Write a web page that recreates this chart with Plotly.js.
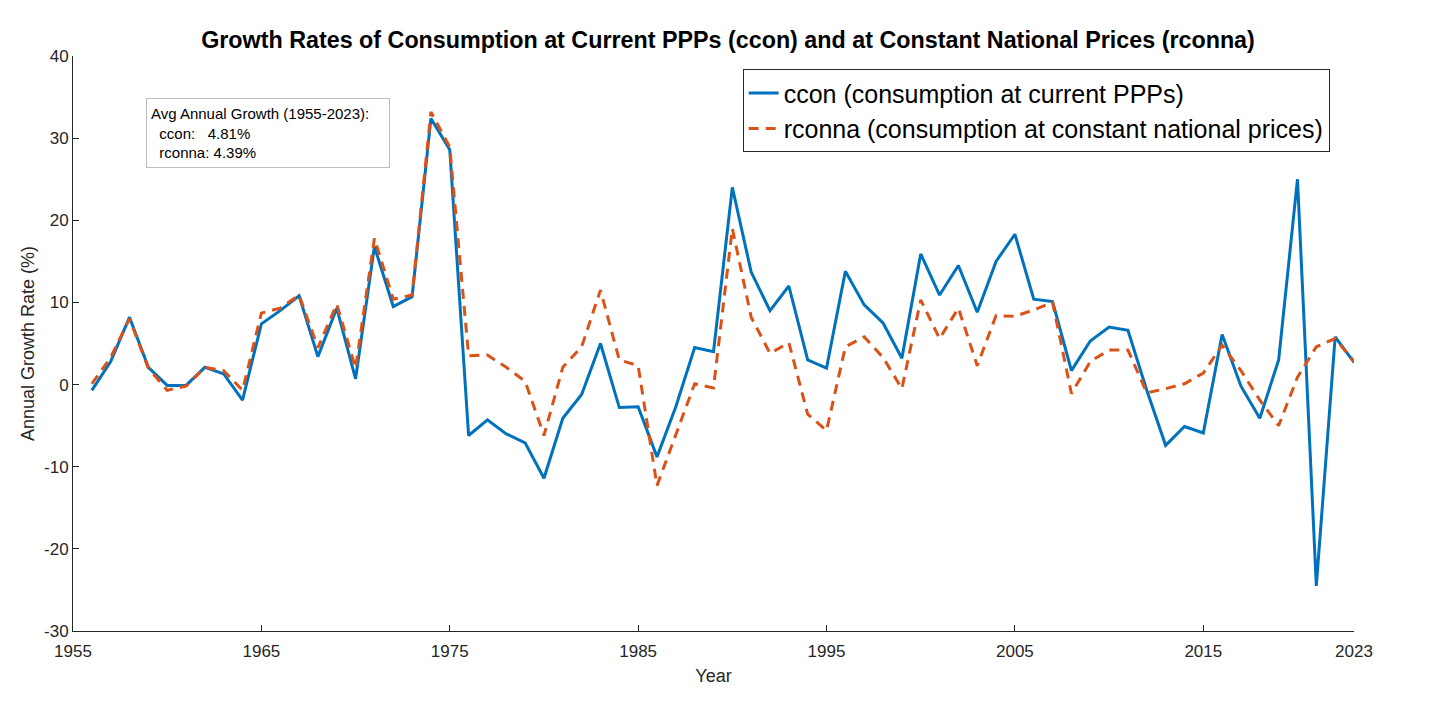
<!DOCTYPE html>
<html>
<head>
<meta charset="utf-8">
<script src="https://cdn.plot.ly/plotly-3.0.1.min.js"></script>
<style>
  html, body { margin: 0; padding: 0; background: #fff; }
  #chart { width: 1456px; height: 702px; }
</style>
</head>
<body>
<div id="chart"></div>
<script>
const years = [1956, 1957, 1958, 1959, 1960, 1961, 1962, 1963, 1964, 1965,
    1966, 1967, 1968, 1969, 1970, 1971, 1972, 1973, 1974, 1975,
    1976, 1977, 1978, 1979, 1980, 1981, 1982, 1983, 1984, 1985,
    1986, 1987, 1988, 1989, 1990, 1991, 1992, 1993, 1994, 1995,
    1996, 1997, 1998, 1999, 2000, 2001, 2002, 2003, 2004, 2005,
    2006, 2007, 2008, 2009, 2010, 2011, 2012, 2013, 2014, 2015,
    2016, 2017, 2018, 2019, 2020, 2021, 2022, 2023];

// ccon growth (%)
const ccon = [-0.7, 2.8, 8.2, 2.1, -0.1, -0.1, 2.1, 1.3, -1.9, 7.4,
    9.0, 10.8, 3.4, 9.3, 0.7, 16.8, 9.5, 10.7, 32.4, 28.6,
    -6.2, -4.3, -6.0, -7.1, -11.4, -4.1, -1.2, 5.0, -2.8, -2.7,
    -8.8, -2.7, 4.5, 4.0, 24.0, 13.7, 9.0, 12.0, 3.0, 2.0,
    13.8, 9.7, 7.5, 3.2, 15.9, 10.9, 14.5, 8.8, 15.0, 18.3,
    10.4, 10.1, 1.7, 5.3, 7.0, 6.6, -0.7, -7.4, -5.1, -5.9,
    6.1, -0.2, -4.1, 3.0, 25.0, -24.5, 5.8, 2.7];

// rconna growth (%)
const rconna = [0.1, 3.3, 8.0, 2.0, -0.7, -0.2, 2.1, 1.7, -0.7, 8.7,
    9.3, 10.9, 4.5, 9.8, 2.0, 17.8, 10.4, 10.9, 33.2, 28.9,
    3.5, 3.6, 2.1, 0.4, -6.2, 2.1, 4.6, 11.5, 3.0, 2.3,
    -12.3, -6.2, 0.1, -0.4, 19.0, 8.2, 3.8, 5.1, -3.6, -5.6,
    4.6, 5.8, 3.3, -0.5, 10.3, 5.6, 9.3, 2.3, 8.4, 8.3,
    9.1, 10.0, -1.1, 2.8, 4.2, 4.2, -1.0, -0.5, 0.1, 1.4,
    4.8, 1.7, -1.9, -5.0, 0.9, 4.6, 5.6, 2.8];

const xTicks = [1955, 1965, 1975, 1985, 1995, 2005, 2015, 2023];
const yTicks = [-30, -20, -10, 0, 10, 20, 30, 40];
const yTickText = ["-30", "-20", "-10", "0", "10", "20", "30", "40"];

const avgText = "Avg Annual Growth (1955-2023):<br>\u00a0\u00a0ccon:\u00a0\u00a0\u00a04.81%<br>\u00a0\u00a0rconna: 4.39%";

const font = "Liberation Sans, Arial, sans-serif";
const axisColor = "#262626";

const traces = [
    {
        x: years, y: ccon, type: "scatter", mode: "lines",
        name: "ccon (consumption at current PPPs)",
        line: { color: "#0072BD", width: 3 }
    },
    {
        x: years, y: rconna, type: "scatter", mode: "lines",
        name: "rconna (consumption at constant national prices)",
        line: { color: "#D95319", width: 3, dash: "10px,7px" }
    }
];

const layout = {
    width: 1456, height: 702,
    margin: { l: 73, r: 102, t: 56, b: 71 },
    paper_bgcolor: "#fff", plot_bgcolor: "#fff",
    font: { family: font, color: axisColor },
    showlegend: true,
    title: {
        text: "<b>Growth Rates of Consumption at Current PPPs (ccon) and at Constant National Prices (rconna)</b>",
        font: { family: font, size: 23.3, color: "#000" },
        x: 0.5, xanchor: "center", y: 0.943, yanchor: "middle"
    },
    xaxis: {
        range: [1955, 2023], tickvals: xTicks, ticktext: xTicks.map(String),
        showgrid: false, zeroline: false,
        showline: true, linecolor: axisColor, linewidth: 1,
        ticks: "inside", ticklen: 6, tickcolor: axisColor,
        ticklabelstandoff: 5,
        tickfont: { size: 17, color: axisColor },
        title: { text: "Year", font: { size: 18, color: axisColor }, standoff: 8 }
    },
    yaxis: {
        range: [-30, 40], tickvals: yTicks, ticktext: yTickText,
        showgrid: false, zeroline: false,
        showline: true, linecolor: axisColor, linewidth: 1,
        ticks: "inside", ticklen: 6, tickcolor: axisColor,
        tickfont: { size: 17, color: axisColor },
        title: { text: "Annual Growth Rate (%)", font: { size: 18, color: axisColor }, standoff: 4 }
    },
    legend: {
        x: 0.981, xanchor: "right", y: 0.977, yanchor: "top",
        bgcolor: "#fff", bordercolor: axisColor, borderwidth: 1,
        font: { size: 25, color: "#000" },
        tracegroupgap: 0, itemwidth: 30
    },
    annotations: [{
        xref: "paper", yref: "paper",
        x: 0.0568, xanchor: "left", y: 0.927, yanchor: "top",
        text: avgText, showarrow: false, align: "left",
        font: { size: 15, color: "#000" },
        bordercolor: "#bdbdbd", borderwidth: 1, borderpad: 4,
        bgcolor: "#fff", width: 234, height: 60
    }]
};

Plotly.newPlot("chart", traces, layout, { displayModeBar: false, responsive: false });
</script>
</body>
</html>
